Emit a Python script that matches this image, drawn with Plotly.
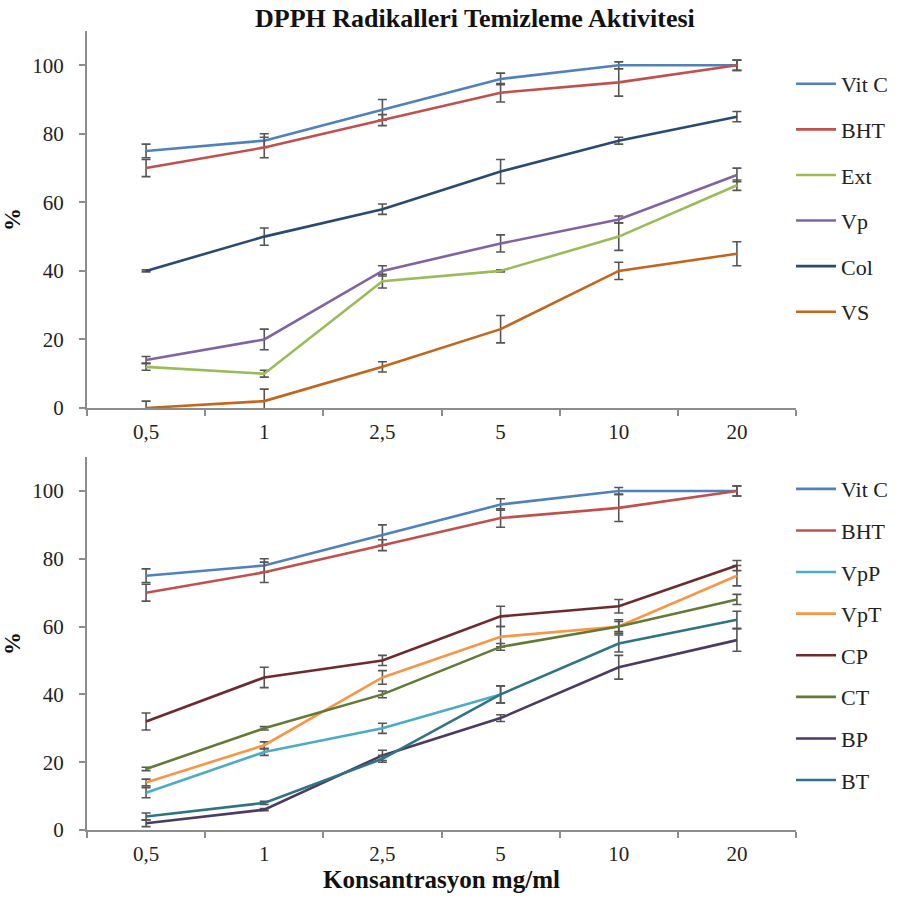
import plotly.graph_objects as go

# Concentrations (mg/ml), shown as category labels
concentrations = ["0,5", "1", "2,5", "5", "10", "20"]

# Upper panel: DPPH scavenging (%) and standard deviations
vitc = [75, 78, 87, 96, 100, 100]
vitc_err = [2, 2, 3, 1.7, 1, 1.5]
bht = [70, 76, 84, 92, 95, 100]
bht_err = [2.5, 3, 1.6, 2.7, 4, 1.5]
ext = [12, 10, 37, 40, 50, 65]
ext_err = [1, 1, 2, 0.3, 4, 1.5]
vp = [14, 20, 40, 48, 55, 68]
vp_err = [1, 3, 1.5, 2.5, 1, 2]
col = [40, 50, 58, 69, 78, 85]
col_err = [0.3, 2.5, 1.5, 3.5, 1, 1.5]
vs = [0, 2, 12, 23, 40, 45]
vs_err = [2, 3.5, 1.5, 4, 2.5, 3.5]

# Lower panel
vpp = [11, 23, 30, 40, None, None]
vpp_err = [1.5, 1, 1.5, 2.5, None, None]
vpt = [14, 25, 45, 57, 60, 75]
vpt_err = [1, 1, 2, 3, 1.5, 3]
cp = [32, 45, 50, 63, 66, 78]
cp_err = [2.5, 3, 1.5, 3, 2, 1.5]
ct = [18, 30, 40, 54, 60, 68]
ct_err = [0.5, 0.5, 1, 1, 2, 1.5]
bp = [2, 6, 22, 33, 48, 56]
bp_err = [1, 0.3, 1.5, 1, 3.5, 3.3]
bt = [4, 8, 21, 40, 55, 62]
bt_err = [1, 0.5, 1, 2.5, 2.5, 2.5]

COLORS = {
    "Vit C": "#4F81BD", "BHT": "#C0504D", "Ext": "#9BBB59", "Vp": "#8064A2",
    "Col": "#2A4A70", "VS": "#C3651B", "VpP": "#4BACC6", "VpT": "#F79646",
    "CP": "#6E2B2E", "CT": "#637A34", "BP": "#4B3B63", "BT": "#2F7482",
}

top_series = [("Vit C", vitc, vitc_err), ("BHT", bht, bht_err), ("Ext", ext, ext_err),
              ("Vp", vp, vp_err), ("Col", col, col_err), ("VS", vs, vs_err)]
bottom_series = [("Vit C", vitc, vitc_err), ("BHT", bht, bht_err), ("VpP", vpp, vpp_err),
                 ("VpT", vpt, vpt_err), ("CP", cp, cp_err), ("CT", ct, ct_err),
                 ("BP", bp, bp_err), ("BT", bt, bt_err)]

SERIF = "Liberation Serif"
AXIS_GREY = "#8C8C8C"
ERR_GREY = "#555555"

fig = go.Figure()


def add_panel(series, xa, ya, legend, tag):
    for name, vals, errs in series:
        fig.add_trace(go.Scatter(
            x=concentrations, y=vals, name=name, mode="lines",
            line=dict(color=COLORS[name], width=2.6),
            error_y=dict(type="data", array=errs, visible=True,
                         color=ERR_GREY, thickness=1.6, width=4.5),
            xaxis=xa, yaxis=ya, legend=legend,
            legendgroup=tag + name, connectgaps=False,
        ))


add_panel(top_series, "x", "y", "legend", "top_")
add_panel(bottom_series, "x2", "y2", "legend2", "bot_")

xaxis_style = dict(
    type="category", categoryorder="array", categoryarray=concentrations,
    range=[-0.5, 5.5], showline=True, linecolor=AXIS_GREY, linewidth=2,
    ticks="outside", tickson="boundaries", ticklen=6, tickwidth=1.5,
    tickcolor=AXIS_GREY, showgrid=False, zeroline=False, automargin=False,
    tickfont=dict(family=SERIF, size=21, color="#222222"),
    ticklabelstandoff=4,
)
yaxis_style = dict(
    range=[0, 110], tickvals=[0, 20, 40, 60, 80, 100], showline=True,
    linecolor=AXIS_GREY, linewidth=2, ticks="outside", ticklen=6,
    tickwidth=1.5, tickcolor=AXIS_GREY, showgrid=False, zeroline=False,
    automargin=False,
    tickfont=dict(family=SERIF, size=21, color="#222222"),
    ticklabelstandoff=11,
    title=dict(text="<b>%</b>", font=dict(family=SERIF, size=23, color="#111111"),
               standoff=8),
)

legend_style = dict(
    font=dict(family=SERIF, size=22, color="#222222"),
    xanchor="left", yanchor="top", bgcolor="rgba(0,0,0,0)",
    itemwidth=40, traceorder="grouped",
)

fig.update_layout(
    width=904, height=897,
    margin=dict(l=87, r=108, t=31, b=67, autoexpand=False),
    paper_bgcolor="white", plot_bgcolor="white",
    xaxis=dict(xaxis_style, domain=[0, 1], anchor="y"),
    yaxis=dict(yaxis_style, domain=[0.5282, 1.0], anchor="x"),
    xaxis2=dict(xaxis_style, domain=[0, 1], anchor="y2",
                title=dict(text="<b>Konsantrasyon mg/ml</b>",
                           font=dict(family=SERIF, size=25, color="#111111"),
                           standoff=0)),
    yaxis2=dict(yaxis_style, domain=[0.0, 0.4668], anchor="x2"),
    legend=dict(legend_style, x=0.993, y=0.960, tracegroupgap=14),
    legend2=dict(legend_style, x=0.993, y=0.453, tracegroupgap=10),
    showlegend=True,
    annotations=[dict(
        text="<b>DPPH Radikalleri Temizleme Aktivitesi</b>",
        xref="paper", yref="paper", x=0.547, y=1.0, yshift=13,
        xanchor="center", yanchor="middle", showarrow=False,
        font=dict(family=SERIF, size=26, color="#111111"),
    )],
)

fig.write_html("out.html")
